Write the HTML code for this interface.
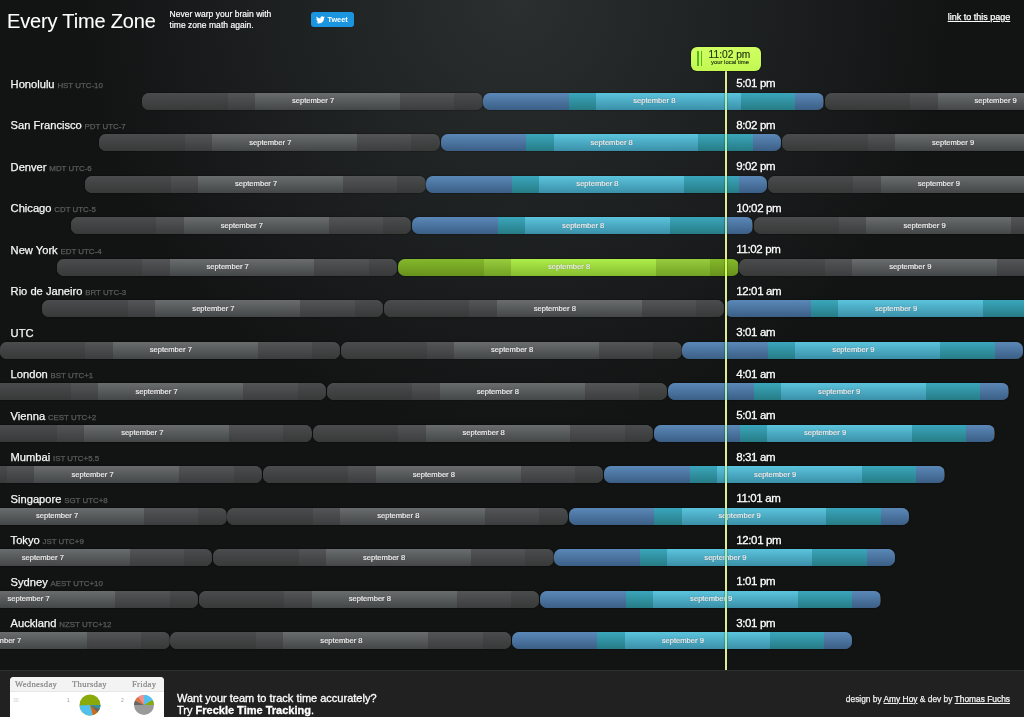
<!DOCTYPE html>
<html><head><meta charset="utf-8"><title>Every Time Zone</title>
<style>
*{margin:0;padding:0;box-sizing:border-box}
html,body{width:1024px;height:717px;overflow:hidden;background:#121414}
body{font-family:"Liberation Sans",sans-serif;color:#fff;position:relative;
 background:radial-gradient(circle 435px at 516px 0,#2b2f30 0%,#121414 100%)}
#wrap{position:absolute;left:0;top:0;width:1024px;height:717px;will-change:transform}
#title{letter-spacing:-0.160px;-webkit-text-stroke:0.080px #fff;position:absolute;left:7px;top:9px;font-size:20px;line-height:24px;font-weight:normal;white-space:nowrap}
#tag{position:absolute;left:169.500px;top:9px;font-size:8.500px;line-height:11px;color:#fff;letter-spacing:0.030px;-webkit-text-stroke:0.180px #fff;white-space:nowrap}
#tweet{position:absolute;left:311px;top:12px;width:43px;height:15px;border-radius:3px;background:#1b95e0;font-size:7.300px;font-weight:bold;line-height:15px;color:#fff;padding-left:16.500px}
#tweet svg{position:absolute;left:5px;top:3.5px;width:9px;height:8px}
#link{position:absolute;right:13.800px;top:11.700px;font-size:9px;line-height:11px;color:#fff;text-decoration:underline;white-space:nowrap;-webkit-text-stroke:0.250px #fff}
.row{position:absolute;left:0;width:1024px;height:36px}
.nm{position:absolute;left:10.600px;top:1.450px;font-size:11.150px;line-height:14px;white-space:nowrap;color:#f6f6f6;-webkit-text-stroke:0.250px #f6f6f6}
.nm small{font-size:7.900px;margin-left:-0.300px;color:#5a5c5d;-webkit-text-stroke:0.250px #5a5c5d}
.tm{position:absolute;left:736.200px;top:0.900px;font-size:11.500px;letter-spacing:-0.350px;line-height:14px;white-space:nowrap;color:#fff;-webkit-text-stroke:0.300px #fff;text-shadow:0 0 1.500px #000}
.day{position:absolute;top:17px;height:17px;width:340.500px;border-radius:7px;overflow:hidden;background:#444;box-shadow:0 0 1.500px rgba(0,0,0,.9)}
.day i{position:absolute;top:0;height:17px;display:block}
.day i.a{left:0;width:85.700px}
.day i.b{left:85.600px;width:27.400px}
.day i.c{left:112.900px;width:145px}
.day i.d{left:257.800px;width:54.400px}
.day i.e{left:312.100px;width:28px}
.day i.a,.day i.e{background:linear-gradient(#4a4c4d,#383939)}
.day i.b,.day i.d{background:linear-gradient(#535556,#3c3d3e)}
.day i.c{background:linear-gradient(#696d6d,#444747)}
.cur i.a,.cur i.e{background:linear-gradient(#5b88b8,#3b5f86)}
.cur i.b,.cur i.d{background:linear-gradient(#3aa6bb,#277c86)}
.cur i.c{background:linear-gradient(#5cc4dd,#3a90a8)}
.me i.a,.me i.e{background:linear-gradient(#84b82c,#68921c)}
.me i.b,.me i.d{background:linear-gradient(#98cc3e,#72a224)}
.me i.c{background:linear-gradient(#aeee4a,#86bc2e)}
.day b{position:absolute;left:0;width:342px;top:-0.400px;line-height:17px;font-size:7.600px;font-weight:normal;text-align:center;color:#f2f2f2;-webkit-text-stroke:0.200px #f2f2f2;text-shadow:0 0 1px rgba(0,0,0,.5)}
#line{position:absolute;left:724.900px;top:68px;width:2.100px;height:602px;background:#e1e996;box-shadow:0 0 1.200px #000}
.lx{position:absolute;left:724.900px;width:2.100px;height:17px;background:#a8f0b4}
#now{position:absolute;left:691px;top:47px;width:70px;height:23.500px;border-radius:6px;background:linear-gradient(#d0ff62,#c2f852);box-shadow:0 0 1.500px #000}
#now .t{position:absolute;left:17.600px;top:1.100px;font-size:10.200px;line-height:13px;color:#1e3410;white-space:nowrap;-webkit-text-stroke:0.150px #1e3410}
#now .s{position:absolute;left:20px;top:10.600px;font-size:5.900px;line-height:8px;color:#1e3410;white-space:nowrap;-webkit-text-stroke:0.150px #1e3410}
#now .g{position:absolute;top:4.200px;width:1.500px;height:14.500px;background:#52b81c}
#foot{position:absolute;left:0;top:670px;width:1024px;height:47px;background:#212121;border-top:1px solid #2e2e2e}
#card{position:absolute;left:10px;top:5.700px;width:153.500px;height:50px;border-radius:4px;background:#fff;overflow:hidden}
#card .h{position:absolute;left:0;top:0;width:154px;height:15px;background:#f3f3f3;border-bottom:1px solid #e6e6e6}
#card span{position:absolute;top:3px;font-family:"Liberation Serif",serif;font-size:8.600px;letter-spacing:0.300px;line-height:9px;color:#858585;white-space:nowrap;-webkit-text-stroke:0.200px #858585}
#card em{position:absolute;top:20px;font-style:normal;font-size:5px;color:#999}
#ft{position:absolute;left:177px;top:20.800px;font-size:11px;line-height:12.600px;color:#fff;white-space:nowrap;-webkit-text-stroke:0.300px #fff}
#cr{position:absolute;right:14px;top:22.500px;font-size:8.400px;line-height:10px;color:#eee;white-space:nowrap;-webkit-text-stroke:0.250px #eee}
#cr u{color:#fff}
</style></head><body>
<div id="wrap">
<div id="title">Every Time Zone</div>
<div id="tag">Never warp your brain with<br>time zone math again.</div>
<div id="tweet"><svg viewBox="0 0 24 20"><path fill="#fff" d="M24 2.4c-.9.4-1.800.7-2.800.8 1-.6 1.800-1.600 2.200-2.700-1 .6-2 1-3.100 1.200C19.400.7 18.100.1 16.700.1c-2.700 0-4.900 2.200-4.900 4.900 0 .4 0 .8.100 1.100C7.700 5.900 4.100 4 1.700.9 1.200 1.700 1 2.500 1 3.400c0 1.700.9 3.200 2.200 4.100-.8 0-1.600-.2-2.200-.6v.1c0 2.400 1.700 4.400 3.900 4.800-.4.100-.8.200-1.300.2-.3 0-.6 0-.9-.1.600 2 2.400 3.400 4.600 3.400-1.700 1.300-3.800 2.100-6.100 2.100-.4 0-.8 0-1.200-.1 2.200 1.400 4.800 2.200 7.500 2.200 9.100 0 14-7.500 14-14v-.6c1-.7 1.800-1.600 2.500-2.500z"/></svg>Tweet</div>
<div id="link">link to this page</div>
<div class="row" style="top:75.50px"><div class="nm">Honolulu <small>HST UTC-10</small></div><div class="tm">5:01 pm</div><div class="day" style="left:142.00px"><i class="a"></i><i class="b"></i><i class="c"></i><i class="d"></i><i class="e"></i><b>september 7</b></div><div class="day cur" style="left:483.33px"><i class="a"></i><i class="b"></i><i class="c"></i><i class="d"></i><i class="e"></i><b>september 8</b></div><div class="day" style="left:824.67px"><i class="a"></i><i class="b"></i><i class="c"></i><i class="d"></i><i class="e"></i><b>september 9</b></div></div>
<div class="row" style="top:117.00px"><div class="nm">San Francisco <small>PDT UTC-7</small></div><div class="tm">8:02 pm</div><div class="day" style="left:99.33px"><i class="a"></i><i class="b"></i><i class="c"></i><i class="d"></i><i class="e"></i><b>september 7</b></div><div class="day cur" style="left:440.67px"><i class="a"></i><i class="b"></i><i class="c"></i><i class="d"></i><i class="e"></i><b>september 8</b></div><div class="day" style="left:782.00px"><i class="a"></i><i class="b"></i><i class="c"></i><i class="d"></i><i class="e"></i><b>september 9</b></div></div>
<div class="row" style="top:158.50px"><div class="nm">Denver <small>MDT UTC-6</small></div><div class="tm">9:02 pm</div><div class="day" style="left:85.11px"><i class="a"></i><i class="b"></i><i class="c"></i><i class="d"></i><i class="e"></i><b>september 7</b></div><div class="day cur" style="left:426.44px"><i class="a"></i><i class="b"></i><i class="c"></i><i class="d"></i><i class="e"></i><b>september 8</b></div><div class="day" style="left:767.78px"><i class="a"></i><i class="b"></i><i class="c"></i><i class="d"></i><i class="e"></i><b>september 9</b></div></div>
<div class="row" style="top:200.00px"><div class="nm">Chicago <small>CDT UTC-5</small></div><div class="tm">10:02 pm</div><div class="day" style="left:70.89px"><i class="a"></i><i class="b"></i><i class="c"></i><i class="d"></i><i class="e"></i><b>september 7</b></div><div class="day cur" style="left:412.22px"><i class="a"></i><i class="b"></i><i class="c"></i><i class="d"></i><i class="e"></i><b>september 8</b></div><div class="day" style="left:753.56px"><i class="a"></i><i class="b"></i><i class="c"></i><i class="d"></i><i class="e"></i><b>september 9</b></div></div>
<div class="row" style="top:241.50px"><div class="nm">New York <small>EDT UTC-4</small></div><div class="tm">11:02 pm</div><div class="day" style="left:56.67px"><i class="a"></i><i class="b"></i><i class="c"></i><i class="d"></i><i class="e"></i><b>september 7</b></div><div class="day me" style="left:398.00px"><i class="a"></i><i class="b"></i><i class="c"></i><i class="d"></i><i class="e"></i><b>september 8</b></div><div class="day" style="left:739.33px"><i class="a"></i><i class="b"></i><i class="c"></i><i class="d"></i><i class="e"></i><b>september 9</b></div></div>
<div class="row" style="top:283.00px"><div class="nm">Rio de Janeiro <small>BRT UTC-3</small></div><div class="tm">12:01 am</div><div class="day" style="left:42.44px"><i class="a"></i><i class="b"></i><i class="c"></i><i class="d"></i><i class="e"></i><b>september 7</b></div><div class="day" style="left:383.78px"><i class="a"></i><i class="b"></i><i class="c"></i><i class="d"></i><i class="e"></i><b>september 8</b></div><div class="day cur" style="left:725.11px"><i class="a"></i><i class="b"></i><i class="c"></i><i class="d"></i><i class="e"></i><b>september 9</b></div></div>
<div class="row" style="top:324.50px"><div class="nm">UTC</div><div class="tm">3:01 am</div><div class="day" style="left:-0.22px"><i class="a"></i><i class="b"></i><i class="c"></i><i class="d"></i><i class="e"></i><b>september 7</b></div><div class="day" style="left:341.11px"><i class="a"></i><i class="b"></i><i class="c"></i><i class="d"></i><i class="e"></i><b>september 8</b></div><div class="day cur" style="left:682.44px"><i class="a"></i><i class="b"></i><i class="c"></i><i class="d"></i><i class="e"></i><b>september 9</b></div></div>
<div class="row" style="top:366.00px"><div class="nm">London <small>BST UTC+1</small></div><div class="tm">4:01 am</div><div class="day" style="left:-14.44px"><i class="a"></i><i class="b"></i><i class="c"></i><i class="d"></i><i class="e"></i><b>september 7</b></div><div class="day" style="left:326.89px"><i class="a"></i><i class="b"></i><i class="c"></i><i class="d"></i><i class="e"></i><b>september 8</b></div><div class="day cur" style="left:668.22px"><i class="a"></i><i class="b"></i><i class="c"></i><i class="d"></i><i class="e"></i><b>september 9</b></div></div>
<div class="row" style="top:407.50px"><div class="nm">Vienna <small>CEST UTC+2</small></div><div class="tm">5:01 am</div><div class="day" style="left:-28.67px"><i class="a"></i><i class="b"></i><i class="c"></i><i class="d"></i><i class="e"></i><b>september 7</b></div><div class="day" style="left:312.67px"><i class="a"></i><i class="b"></i><i class="c"></i><i class="d"></i><i class="e"></i><b>september 8</b></div><div class="day cur" style="left:654.00px"><i class="a"></i><i class="b"></i><i class="c"></i><i class="d"></i><i class="e"></i><b>september 9</b></div></div>
<div class="row" style="top:449.00px"><div class="nm">Mumbai <small>IST UTC+5.5</small></div><div class="tm">8:31 am</div><div class="day" style="left:-78.44px"><i class="a"></i><i class="b"></i><i class="c"></i><i class="d"></i><i class="e"></i><b>september 7</b></div><div class="day" style="left:262.89px"><i class="a"></i><i class="b"></i><i class="c"></i><i class="d"></i><i class="e"></i><b>september 8</b></div><div class="day cur" style="left:604.22px"><i class="a"></i><i class="b"></i><i class="c"></i><i class="d"></i><i class="e"></i><b>september 9</b></div></div>
<div class="row" style="top:490.50px"><div class="nm">Singapore <small>SGT UTC+8</small></div><div class="tm">11:01 am</div><div class="day" style="left:-114.00px"><i class="a"></i><i class="b"></i><i class="c"></i><i class="d"></i><i class="e"></i><b>september 7</b></div><div class="day" style="left:227.33px"><i class="a"></i><i class="b"></i><i class="c"></i><i class="d"></i><i class="e"></i><b>september 8</b></div><div class="day cur" style="left:568.67px"><i class="a"></i><i class="b"></i><i class="c"></i><i class="d"></i><i class="e"></i><b>september 9</b></div></div>
<div class="row" style="top:532.00px"><div class="nm">Tokyo <small>JST UTC+9</small></div><div class="tm">12:01 pm</div><div class="day" style="left:-128.22px"><i class="a"></i><i class="b"></i><i class="c"></i><i class="d"></i><i class="e"></i><b>september 7</b></div><div class="day" style="left:213.11px"><i class="a"></i><i class="b"></i><i class="c"></i><i class="d"></i><i class="e"></i><b>september 8</b></div><div class="day cur" style="left:554.44px"><i class="a"></i><i class="b"></i><i class="c"></i><i class="d"></i><i class="e"></i><b>september 9</b></div></div>
<div class="row" style="top:573.50px"><div class="nm">Sydney <small>AEST UTC+10</small></div><div class="tm">1:01 pm</div><div class="day" style="left:-142.44px"><i class="a"></i><i class="b"></i><i class="c"></i><i class="d"></i><i class="e"></i><b>september 7</b></div><div class="day" style="left:198.89px"><i class="a"></i><i class="b"></i><i class="c"></i><i class="d"></i><i class="e"></i><b>september 8</b></div><div class="day cur" style="left:540.22px"><i class="a"></i><i class="b"></i><i class="c"></i><i class="d"></i><i class="e"></i><b>september 9</b></div></div>
<div class="row" style="top:615.00px"><div class="nm">Auckland <small>NZST UTC+12</small></div><div class="tm">3:01 pm</div><div class="day" style="left:-170.89px"><i class="a"></i><i class="b"></i><i class="c"></i><i class="d"></i><i class="e"></i><b>september 7</b></div><div class="day" style="left:170.44px"><i class="a"></i><i class="b"></i><i class="c"></i><i class="d"></i><i class="e"></i><b>september 8</b></div><div class="day cur" style="left:511.78px"><i class="a"></i><i class="b"></i><i class="c"></i><i class="d"></i><i class="e"></i><b>september 9</b></div></div>
<div id="line"></div>
<div class="lx" style="top:92.50px;background:#a8f0b4"></div>
<div class="lx" style="top:134.00px;background:#a8f0b4"></div>
<div class="lx" style="top:175.50px;background:#a8f0b4"></div>
<div class="lx" style="top:217.00px;background:#a8f0b4"></div>
<div class="lx" style="top:258.50px;background:#d2ff5a"></div>
<div class="lx" style="top:341.50px;background:#a8f0b4"></div>
<div class="lx" style="top:383.00px;background:#a8f0b4"></div>
<div class="lx" style="top:424.50px;background:#a8f0b4"></div>
<div class="lx" style="top:466.00px;background:#a8f0b4"></div>
<div class="lx" style="top:507.50px;background:#a8f0b4"></div>
<div class="lx" style="top:549.00px;background:#a8f0b4"></div>
<div class="lx" style="top:590.50px;background:#a8f0b4"></div>
<div class="lx" style="top:632.00px;background:#a8f0b4"></div>
<div id="now"><div class="g" style="left:6.100px"></div><div class="g" style="left:9.500px"></div><div class="t">11:02 pm</div><div class="s">your local time</div></div>
<div id="foot">
 <div id="card"><div class="h"></div><span style="left:5px">Wednesday</span><span style="left:62px">Thursday</span><span style="left:122px">Friday</span>
 <em style="left:3px;color:#ccc">30</em><em style="left:57px">1</em><em style="left:111px">2</em>
 <svg style="position:absolute;left:67.200px;top:15.500px" width="26" height="26" viewBox="-13 -13 26 26">
  <circle r="10.500" fill="#8aaa0c"/>
  <path d="M0 0 L-10.500 0.500 A10.500 10.500 0 0 0 3 10.100 Z" fill="#52c0ee"/>
  <path d="M0 0 L3 10.100 A10.500 10.500 0 0 0 7.500 7.300 Z" fill="#d2691e"/>
  <path d="M0 0 L7.500 7.300 A10.500 10.500 0 0 0 9.800 3.800 Z" fill="#666"/>
  <path d="M0 0 L9.800 3.800 A10.500 10.500 0 0 0 10.500 0 Z" fill="#2e8fa8"/>
 </svg>
 <svg style="position:absolute;left:121.200px;top:15.500px" width="26" height="26" viewBox="-13 -13 26 26">
  <circle r="10" fill="#9a9a9a"/>
  <path d="M0 0 L0 -10 A10 10 0 0 1 8.700 -5 Z" fill="#52c0ee"/>
  <path d="M0 0 L8.700 -5 A10 10 0 0 1 10 0 Z" fill="#8aaa0c"/>
  <path d="M0 0 L0 -10 A10 10 0 0 0 -6 -8 Z" fill="#f09090"/>
  <path d="M0 0 L-6 -8 A10 10 0 0 0 -9 -4.300 Z" fill="#e0703a"/>
  <path d="M0 0 L-9 -4.300 A10 10 0 0 0 -10 0 Z" fill="#666"/>
 </svg>
 </div>
 <div id="ft">Want your team to track time accurately?<br>Try <b>Freckle Time Tracking</b>.</div>
 <div id="cr">design by <u>Amy Hoy</u> &amp; dev by <u>Thomas Fuchs</u></div>
</div>
</div>
</body></html>
